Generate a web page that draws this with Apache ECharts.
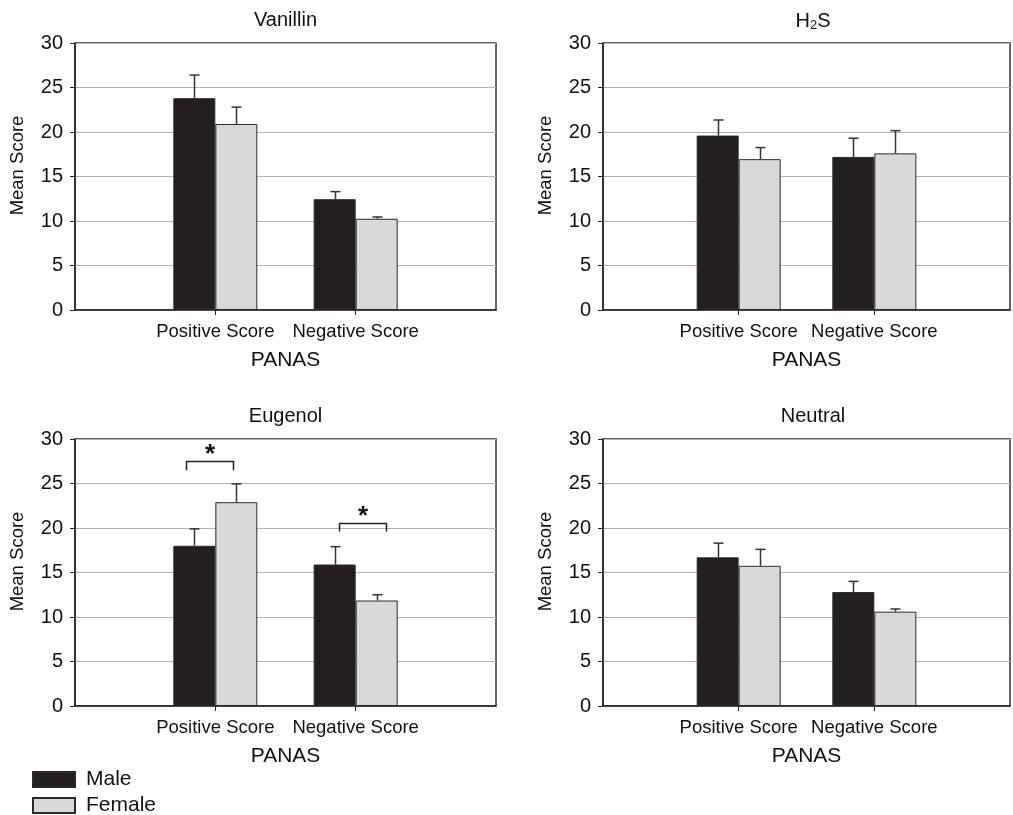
<!DOCTYPE html>
<html>
<head>
<meta charset="utf-8">
<script src="https://cdn.jsdelivr.net/npm/echarts@6/dist/echarts.min.js"></script>
<style>
html,body{margin:0;padding:0;background:#fff;}
#chart{width:1013px;height:815px;}
</style>
</head>
<body>
<div id="chart"></div>
<script>
// ---------- data ----------
const categories = ['Positive Score', 'Negative Score'];
const panelTitles = ['Vanillin', 'H{sub|2}S', 'Eugenol', 'Neutral'];
const yTicks = [0, 5, 10, 15, 20, 25, 30];
const seriesNames = ['Male', 'Female'];

const vanillinMale = [23.8, 12.45];
const vanillinMaleErr = [2.6, 0.85];
const vanillinFemale = [20.9, 10.25];
const vanillinFemaleErr = [1.9, 0.2];

const h2sMale = [19.6, 17.2];
const h2sMaleErr = [1.75, 2.1];
const h2sFemale = [16.95, 17.6];
const h2sFemaleErr = [1.3, 2.55];

const eugenolMale = [18.0, 15.9];
const eugenolMaleErr = [1.9, 2.0];
const eugenolFemale = [22.9, 11.85];
const eugenolFemaleErr = [2.05, 0.65];

const neutralMale = [16.7, 12.8];
const neutralMaleErr = [1.6, 1.2];
const neutralFemale = [15.75, 10.6];
const neutralFemaleErr = [1.85, 0.3];

// significance brackets in Eugenol panel
const eugenolSigCategory = ['Positive Score', 'Negative Score'];
const eugenolSigTop = [27.5, 20.6];
const eugenolSigLeg = [26.5, 19.6];
const eugenolSigStar = [28.8, 21.8];

// ---------- layout / style ----------
const FONT = '"Liberation Sans", Arial, Helvetica, sans-serif';
const BAR_W = 42;
const MALE_COLOR = '#231f20';
const FEMALE_COLOR = '#d8d9db';
const EDGE = '#2a2a2a';
const grids = [
  {left: 75, top: 43, width: 421, height: 267},
  {left: 603, top: 43, width: 420, height: 267},
  {left: 75, top: 439, width: 421, height: 267},
  {left: 603, top: 439, width: 420, height: 267}
];
const bracketSpanPx = [[-29, 18], [-17, 30]];

const panels = [
  {m: vanillinMale, me: vanillinMaleErr, f: vanillinFemale, fe: vanillinFemaleErr},
  {m: h2sMale, me: h2sMaleErr, f: h2sFemale, fe: h2sFemaleErr},
  {m: eugenolMale, me: eugenolMaleErr, f: eugenolFemale, fe: eugenolFemaleErr},
  {m: neutralMale, me: neutralMaleErr, f: neutralFemale, fe: neutralFemaleErr}
];

const axisCats = [''].concat(categories).concat(['']);
function padded(arr) { return ['-'].concat(arr).concat(['-']); }

const chart = echarts.init(document.getElementById('chart'));

const xAxes = [], yAxes = [], series = [], titles = [];

function errRender(offset) {
  return function (params, api) {
    const c = api.value(0), v = api.value(1), e = api.value(2);
    const p0 = api.coord([c, v]);
    const p1 = api.coord([c, v + e]);
    const x = Math.round(p0[0] + offset) + 0.5;
    const st = {stroke: '#333', lineWidth: 1.5};
    return {
      type: 'group',
      children: [
        {type: 'line', shape: {x1: x, y1: p0[1], x2: x, y2: p1[1]}, style: st},
        {type: 'line', shape: {x1: x - 5, y1: p1[1], x2: x + 5, y2: p1[1]}, style: st}
      ]
    };
  };
}

grids.forEach(function (g, i) {
  titles.push({
    text: panelTitles[i],
    left: g.left + g.width / 2,
    top: g.top - 33,
    textAlign: 'center',
    padding: 0,
    textStyle: {
      fontFamily: FONT, fontSize: 20, fontWeight: 'normal', color: '#111',
      rich: {sub: {fontFamily: FONT, fontSize: 13, color: '#111', padding: [9, 0, 0, 0]}}
    }
  });
  xAxes.push({
    type: 'category', gridIndex: i, data: axisCats, boundaryGap: false,
    name: 'PANAS', nameLocation: 'middle', nameGap: 40,
    nameTextStyle: {fontFamily: FONT, fontSize: 21, color: '#111'},
    axisLine: {lineStyle: {color: '#222', width: 1.5}},
    axisTick: {length: 5, lineStyle: {color: '#222'}, interval: function (idx) { return idx === 1 || idx === 2; }},
    axisLabel: {interval: 0, margin: 12, fontFamily: FONT, fontSize: 18.5, color: '#111'},
    splitLine: {show: false}
  });
  yAxes.push({
    type: 'value', gridIndex: i, min: yTicks[0], max: yTicks[yTicks.length - 1], interval: yTicks[1] - yTicks[0],
    name: 'Mean Score', nameLocation: 'middle', nameGap: 48,
    nameTextStyle: {fontFamily: FONT, fontSize: 18.5, color: '#111', padding: [0, 0, 0, 22]},
    axisLine: {show: true, lineStyle: {color: '#222', width: 1.5}},
    axisTick: {show: true, length: 5, lineStyle: {color: '#222'}},
    axisLabel: {margin: 12, fontFamily: FONT, fontSize: 20, color: '#111'},
    splitLine: {show: true, lineStyle: {color: '#b3b3b3', width: 1}}
  });
  const p = panels[i];
  series.push({
    name: seriesNames[0], type: 'bar', xAxisIndex: i, yAxisIndex: i,
    data: padded(p.m), barWidth: BAR_W, barGap: '0%',
    itemStyle: {color: MALE_COLOR, borderColor: EDGE, borderWidth: 1}
  });
  series.push({
    name: seriesNames[1], type: 'bar', xAxisIndex: i, yAxisIndex: i,
    data: padded(p.f), barWidth: BAR_W, barGap: '0%',
    itemStyle: {color: FEMALE_COLOR, borderColor: EDGE, borderWidth: 1}
  });
  series.push({
    type: 'custom', xAxisIndex: i, yAxisIndex: i, z: 5, silent: true,
    renderItem: errRender(-BAR_W / 2),
    data: p.m.map(function (v, k) { return [k + 1, v, p.me[k]]; })
  });
  series.push({
    type: 'custom', xAxisIndex: i, yAxisIndex: i, z: 5, silent: true,
    renderItem: errRender(BAR_W / 2),
    data: p.f.map(function (v, k) { return [k + 1, v, p.fe[k]]; })
  });
});

// significance brackets (Eugenol panel)
series.push({
  type: 'custom', xAxisIndex: 2, yAxisIndex: 2, z: 6, silent: true,
  data: eugenolSigCategory.map(function (c, k) {
    return [axisCats.indexOf(c), eugenolSigTop[k], eugenolSigLeg[k], eugenolSigStar[k]];
  }),
  renderItem: function (params, api) {
    const c = api.value(0);
    const pt = api.coord([c, api.value(1)]);
    const pl = api.coord([c, api.value(2)]);
    const ps = api.coord([c, api.value(3)]);
    const span = bracketSpanPx[params.dataIndex];
    const xl = Math.round(pt[0] + span[0]) + 0.5, xr = Math.round(pt[0] + span[1]) + 0.5;
    const yt = Math.round(pt[1]) + 0.5;
    return {
      type: 'group',
      children: [
        {type: 'polyline', shape: {points: [[xl, pl[1]], [xl, yt], [xr, yt], [xr, pl[1]]]},
         style: {stroke: '#222', lineWidth: 1.5, fill: null}},
        {type: 'text', x: (xl + xr) / 2, y: ps[1] + 5,
         style: {text: '*', fontFamily: FONT, fontSize: 26, fontWeight: 'bold', fill: '#111',
                 align: 'center', verticalAlign: 'middle'}}
      ]
    };
  }
});

const legendBase = {
  left: 32, padding: 0,
  itemWidth: 42, itemHeight: 15,
  icon: 'rect',
  textStyle: {fontFamily: FONT, fontSize: 21, color: '#111', padding: [0, 0, 0, 6]}
};

const option = {
  backgroundColor: '#fff',
  animation: false,
  title: titles,
  grid: grids.map(function (g) {
    return {left: g.left, top: g.top, width: g.width, height: g.height,
            show: true, borderColor: '#333', borderWidth: 1.5, backgroundColor: 'transparent'};
  }),
  xAxis: xAxes,
  yAxis: yAxes,
  legend: [
    Object.assign({}, legendBase, {data: [seriesNames[0]], top: 769}),
    Object.assign({}, legendBase, {data: [seriesNames[1]], top: 795})
  ],
  series: series
};
chart.setOption(option);
</script>
</body>
</html>
